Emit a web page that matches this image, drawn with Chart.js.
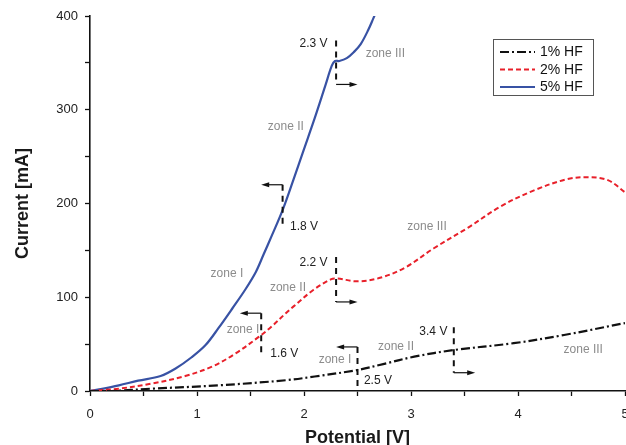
<!DOCTYPE html>
<html>
<head>
<meta charset="utf-8">
<title>Current vs potential</title>
<script src="https://cdn.jsdelivr.net/npm/chart.js@4.4.1/dist/chart.umd.min.js"></script>
<style>
  html, body { margin: 0; padding: 0; background: #fff; }
  #wrap { width: 626px; height: 445px; }
</style>
</head>
<body>
<div id="wrap"><canvas id="myChart"></canvas></div>
<script>
// Curves: potential [V] / current [mA]
const seriesNames = ["1% HF", "2% HF", "5% HF"];

const hf1Potential = [0, 0.2, 0.58, 1.2, 1.83, 2.1, 2.5, 2.75, 3.03, 3.4, 3.96, 4.43, 5.0];
const hf1Current = [0, 0, 2.5, 6, 11.5, 15.5, 22.4, 29, 36.6, 43.7, 51, 59.7, 72.5];

const hf2Potential = [0, 0.27, 0.58, 0.89, 1.14, 1.36, 1.58, 1.7, 1.83, 1.9, 2.09, 2.25, 2.31, 2.5, 2.72, 2.95, 3.21, 3.53, 3.84, 4.15, 4.46, 4.65, 4.84, 5.0];
const hf2Current = [0, 2.5, 8, 16, 26, 40, 58, 69, 83, 90, 108, 119, 120, 117, 121, 132, 152, 174, 197, 214, 226, 228, 225, 212];

const hf5Potential = [0, 0.1, 0.27, 0.45, 0.66, 0.8, 0.95, 1.08, 1.2, 1.33, 1.45, 1.55, 1.62, 1.7, 1.8, 1.9, 2.0, 2.1, 2.2, 2.26, 2.29, 2.33, 2.4, 2.47, 2.53, 2.6, 2.65, 2.68];
const hf5Current = [0, 2, 6, 11, 16, 24, 36, 49, 67, 88, 108, 127, 145, 166, 193, 225, 258, 291, 326, 347, 352, 352, 355, 362, 370, 385, 398, 406];

const xTickLabels = [0, 1, 2, 3, 4, 5];
const yTickLabels = [0, 100, 200, 300, 400];

// zone boundaries: potential, lower end, upper end, arrow level, arrow direction
const boundaries = [
  [2.3, 327, 374, 327, 1],
  [1.8, 175, 220, 220, -1],
  [2.3, 95, 143, 95, 1],
  [1.6, 40, 83, 83, -1],
  [2.5, 0, 47, 47, -1],
  [3.4, 19.5, 68, 19.5, 1],
];
const boundaryLabels = [
  ["2.3 V", 2.22, 370, "right"],
  ["1.8 V", 1.87, 175, "left"],
  ["2.2 V", 2.22, 137, "right"],
  ["1.6 V", 1.685, 39.5, "left"],
  ["2.5 V", 2.56, 10.7, "left"],
  ["3.4 V", 3.34, 63, "right"],
];
const zoneLabels = [
  ["zone III", 2.76, 360],
  ["zone II", 1.83, 282],
  ["zone I", 1.28, 125],
  ["zone II", 1.85, 110],
  ["zone I", 1.43, 65],
  ["zone III", 3.15, 175],
  ["zone I", 2.29, 33],
  ["zone II", 2.86, 47],
  ["zone III", 4.61, 44],
];

const FONT = "'Liberation Sans', Arial, sans-serif";

function toPoints(xs, ys) {
  return xs.map((v, i) => ({ x: v, y: ys[i] }));
}

// zone markers, labels and the boxed legend
const zonesPlugin = {
  id: "zones",
  afterDatasetsDraw(chart) {
    const { ctx, scales: { x, y } } = chart;
    ctx.save();
    ctx.strokeStyle = "#111";
    ctx.fillStyle = "#111";
    boundaries.forEach(([v, lo, hi, level, dir]) => {
      const px = x.getPixelForValue(v);
      ctx.lineWidth = 2;
      ctx.setLineDash([6, 5]);
      ctx.beginPath();
      ctx.moveTo(px, y.getPixelForValue(hi));
      ctx.lineTo(px, y.getPixelForValue(lo));
      ctx.stroke();

      const py = y.getPixelForValue(level);
      const end = x.getPixelForValue(v + dir * 0.2);
      ctx.setLineDash([]);
      ctx.lineWidth = 1.2;
      ctx.beginPath();
      ctx.moveTo(px, py);
      ctx.lineTo(end - dir * 5, py);
      ctx.stroke();
      ctx.beginPath();
      ctx.moveTo(end, py);
      ctx.lineTo(end - dir * 8, py - 2.5);
      ctx.lineTo(end - dir * 8, py + 2.5);
      ctx.closePath();
      ctx.fill();
    });

    ctx.textBaseline = "middle";
    ctx.font = "12px " + FONT;
    ctx.fillStyle = "#222";
    boundaryLabels.forEach(([text, v, c, align]) => {
      ctx.textAlign = align;
      ctx.fillText(text, x.getPixelForValue(v), y.getPixelForValue(c));
    });
    ctx.fillStyle = "#8c8c8c";
    ctx.textAlign = "center";
    zoneLabels.forEach(([text, v, c]) => {
      ctx.fillText(text, x.getPixelForValue(v), y.getPixelForValue(c));
    });

    // legend box
    const lx = chart.chartArea.right - 132;
    const ly = chart.chartArea.top + 23;
    ctx.strokeStyle = "#555";
    ctx.lineWidth = 1;
    ctx.strokeRect(lx + 0.5, ly + 0.5, 100, 56);
    ctx.font = "14px " + FONT;
    ctx.textAlign = "left";
    ctx.fillStyle = "#111";
    chart.data.datasets.forEach((ds, i) => {
      const rowY = ly + 13 + i * 17.5;
      ctx.strokeStyle = ds.borderColor;
      ctx.lineWidth = ds.borderWidth;
      ctx.setLineDash(ds.borderDash || []);
      ctx.beginPath();
      ctx.moveTo(lx + 7, rowY);
      ctx.lineTo(lx + 42, rowY);
      ctx.stroke();
      ctx.fillText(ds.label, lx + 47, rowY + 0.5);
    });
    ctx.restore();
  },
};

const ctx = document.getElementById("myChart").getContext("2d");
const myChart = new Chart(ctx, {
  type: "line",
  data: {
    datasets: [
      {
        label: seriesNames[0],
        data: toPoints(hf1Potential, hf1Current),
        borderColor: "#111111",
        borderWidth: 2.2,
        borderDash: [9, 3, 2, 3],
      },
      {
        label: seriesNames[1],
        data: toPoints(hf2Potential, hf2Current),
        borderColor: "#e8202a",
        borderWidth: 2,
        borderDash: [5, 3],
      },
      {
        label: seriesNames[2],
        data: toPoints(hf5Potential, hf5Current),
        borderColor: "#3852a4",
        borderWidth: 2.2,
      },
    ],
  },
  options: {
    responsive: true,
    maintainAspectRatio: false,
    animation: false,
    layout: { padding: { top: 16, right: 1, left: 0, bottom: 0 } },
    elements: {
      point: { radius: 0 },
      line: { tension: 0.35, fill: false },
    },
    plugins: {
      legend: { display: false },
      tooltip: { enabled: false },
    },
    scales: {
      x: {
        type: "linear",
        min: 0,
        max: 5,
        afterFit(scale) {
          scale.height = 54;
          scale.paddingLeft = 0;
          scale.paddingRight = 0;
        },
        ticks: {
          stepSize: 0.5,
          padding: 11,
          color: "#222",
          font: { family: FONT, size: 13 },
          maxRotation: 0,
          autoSkip: false,
          callback: (v) => (xTickLabels.includes(v) ? String(v) : ""),
        },
        grid: { drawOnChartArea: false, tickLength: 5, tickColor: "#111", tickWidth: 1.3 },
        border: { display: true, color: "#111", width: 1.6 },
        title: {
          display: true,
          text: "Potential [V]",
          color: "#1a1a1a",
          font: { family: FONT, size: 18, weight: "bold" },
          padding: { top: 0, bottom: -4 },
        },
      },
      y: {
        min: 0,
        max: 400,
        afterFit(scale) {
          scale.width = 90;
        },
        ticks: {
          stepSize: 50,
          padding: 7,
          color: "#222",
          font: { family: FONT, size: 13 },
          autoSkip: false,
          callback: (v) => (yTickLabels.includes(v) ? String(v) : ""),
        },
        grid: { drawOnChartArea: false, tickLength: 5, tickColor: "#111", tickWidth: 1.3 },
        border: { display: true, color: "#111", width: 1.6 },
        title: {
          display: true,
          text: "Current [mA]",
          color: "#1a1a1a",
          font: { family: FONT, size: 18, weight: "bold" },
          padding: { top: 12, bottom: 0 },
        },
      },
    },
  },
  plugins: [zonesPlugin],
});
</script>
</body>
</html>
